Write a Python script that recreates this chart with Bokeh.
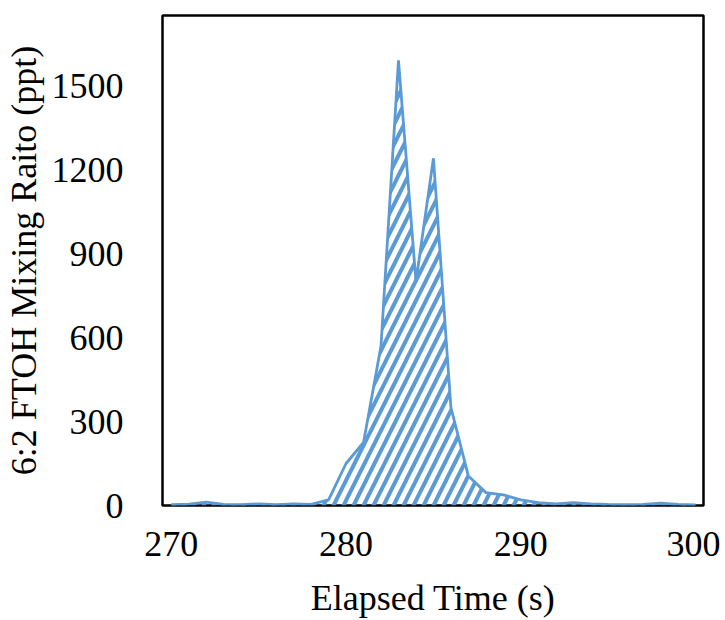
from bokeh.plotting import figure
from bokeh.models import Range1d, FixedTicker
from bokeh.embed import file_html
from bokeh.resources import INLINE

# Data
time_s = [270, 271, 272, 273, 274, 275, 276, 277, 278, 279, 280,
          281, 282, 283, 284, 285, 286, 287, 288, 289, 290,
          291, 292, 293, 294, 295, 296, 297, 298, 299, 300]
ftoh_ppt = [3, 5, 12, 4, 3, 6, 3, 6, 4, 20, 150,
            225, 570, 1590, 800, 1240, 350, 105, 46, 38, 20,
            10, 6, 10, 6, 4, 3, 4, 8, 4, 2]
x_ticks = [270, 280, 290, 300]
y_ticks = [0, 300, 600, 900, 1200, 1500]
x_title = "Elapsed Time (s)"
y_title = "6:2 FTOH Mixing Raito (ppt)"

BLUE = "#5B9BD5"
FONT = "Liberation Serif"

p = figure(width=720, height=620, output_backend="svg", toolbar_location=None,
           x_range=Range1d(269.5, 300.45), y_range=Range1d(0, 1750),
           min_border_left=161, min_border_right=17, min_border_top=15,
           min_border_bottom=115)

p.varea(x=time_s, y1=[0] * len(time_s), y2=ftoh_ppt,
        fill_color="white", fill_alpha=0.0,
        hatch_pattern="/", hatch_color=BLUE, hatch_weight=4, hatch_scale=20)
p.line(time_s, ftoh_ppt, line_color=BLUE, line_width=2.8)

p.outline_line_color = "black"
p.outline_line_width = 2.5
p.grid.visible = False
p.background_fill_color = "white"
p.border_fill_color = "white"

for ax in (p.xaxis[0], p.yaxis[0]):
    ax.axis_line_color = None
    ax.major_tick_line_color = None
    ax.minor_tick_line_color = None
    ax.major_label_text_font = FONT
    ax.major_label_text_font_size = "36px"
    ax.major_label_text_color = "black"
    ax.axis_label_text_font = FONT
    ax.axis_label_text_font_size = "36px"
    ax.axis_label_text_font_style = "normal"
    ax.axis_label_text_color = "black"

p.xaxis.ticker = FixedTicker(ticks=x_ticks)
p.yaxis.ticker = FixedTicker(ticks=y_ticks)
p.xaxis.axis_label = x_title
p.yaxis.axis_label = y_title
p.xaxis.major_label_standoff = 20
p.yaxis.major_label_standoff = 33
p.xaxis.axis_label_standoff = 19
p.yaxis.axis_label_standoff = 5

open("out.html", "w").write(file_html(p, INLINE))
